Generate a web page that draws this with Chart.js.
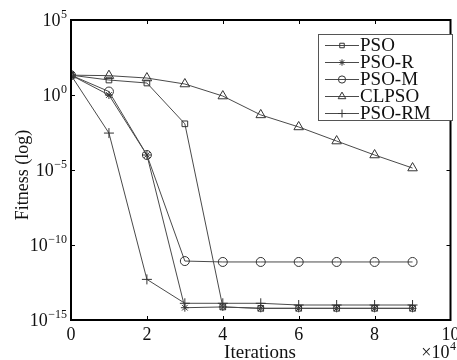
<!DOCTYPE html>
<html>
<head>
<meta charset="utf-8">
<script src="https://cdn.jsdelivr.net/npm/chart.js@4.4.0/dist/chart.umd.min.js"></script>
<style>
  html, body { margin: 0; padding: 0; background: #fff; }
</style>
</head>
<body>
<canvas id="myChart" width="457" height="360"></canvas>
<script>
// iterations, in units of 10^4
const iterations = [0, 1, 2, 3, 4, 5, 6, 7, 8, 9];

const psoValues = [21, 10, 6.3, 1.2e-2, 7.4e-15, 6e-15, 6e-15, 6e-15, 6e-15, 6e-15];
const psoRValues = [21, 1.0, 1e-4, 6.6e-15, 7.4e-15, 6e-15, 6e-15, 6e-15, 6e-15, 6e-15];
const psoMValues = [21, 1.7, 1e-4, 8.5e-12, 7.4e-12, 7.4e-12, 7.4e-12, 7.4e-12, 7.4e-12, 7.4e-12];
const clpsoValues = [21, 19.5, 13.5, 5.4, 0.85, 4.7e-2, 7.4e-3, 8.5e-4, 1e-4, 1.35e-5];
const psoRMValues = [21, 2.9e-3, 5.1e-13, 1.3e-14, 1.3e-14, 1.3e-14, 1e-14, 1e-14, 1e-14, 1e-14];

const seriesNames = ["PSO", "PSO-R", "PSO-M", "CLPSO", "PSO-RM"];
const seriesMarkers = ["rect", "star", "circle", "triangle", "cross"];
const markerSizes = [4, 4, 4.5, 5.5, 5];

const xTicks = [0, 2, 4, 6, 8, 10];
const yTicks = [1e-15, 1e-10, 1e-5, 1, 1e5];
// exponents shown as superscripts on "10"
const yTickExponents = ["−15", "−10", "−5", "0", "5"];

const serif = "'Liberation Serif', 'Times New Roman', serif";
const lineColor = "#4a4a4a";

const allValues = [psoValues, psoRValues, psoMValues, clpsoValues, psoRMValues];

const datasets = seriesNames.map((name, i) => ({
    label: name,
    data: iterations.map((x, j) => ({ x: x, y: allValues[i][j] })),
    borderColor: lineColor,
    borderWidth: 1,
    pointStyle: seriesMarkers[i],
    pointRadius: markerSizes[i],
    pointBorderColor: "#333",
    pointBorderWidth: 1,
    pointBackgroundColor: "rgba(0,0,0,0)",
    tension: 0
}));

// little marker drawing for the legend box
const drawMarker = (ctx, style, x, y, r) => {
    ctx.beginPath();
    if (style === "rect") {
        const s = r * Math.SQRT1_2;
        ctx.rect(x - s, y - s, 2 * s, 2 * s);
    } else if (style === "circle") {
        ctx.arc(x, y, r, 0, Math.PI * 2);
    } else if (style === "triangle") {
        ctx.moveTo(x, y - r);
        ctx.lineTo(x + r * 0.866, y + r * 0.5);
        ctx.lineTo(x - r * 0.866, y + r * 0.5);
        ctx.closePath();
    } else if (style === "cross") {
        ctx.moveTo(x, y - r); ctx.lineTo(x, y + r);
        ctx.moveTo(x - r, y); ctx.lineTo(x + r, y);
    } else if (style === "star") {
        for (let k = 0; k < 4; k++) {
            const a = k * Math.PI / 4;
            ctx.moveTo(x - r * Math.cos(a), y - r * Math.sin(a));
            ctx.lineTo(x + r * Math.cos(a), y + r * Math.sin(a));
        }
    }
    ctx.stroke();
};

// "10" + superscript, right edge at x
const drawPower = (ctx, base, exp, right, y) => {
    ctx.textBaseline = "middle";
    ctx.textAlign = "right";
    ctx.font = "12px " + serif;
    const ew = ctx.measureText(exp).width;
    ctx.fillText(exp, right, y - 5);
    ctx.font = "18px " + serif;
    ctx.fillText(base, right - ew - 0.5, y + 1);
};

const framePlugin = {
    id: "frame",
    afterDraw(chart) {
        const ctx = chart.ctx;
        const a = chart.chartArea;
        const xs = chart.scales.x;
        const ys = chart.scales.y;
        ctx.save();

        // box around plot
        ctx.strokeStyle = "#000";
        ctx.lineWidth = 2;
        ctx.strokeRect(a.left, a.top, a.right - a.left, a.bottom - a.top);

        // inward ticks
        ctx.lineWidth = 1;
        ctx.beginPath();
        xTicks.slice(1, -1).forEach(v => {
            const px = Math.round(xs.getPixelForValue(v)) + 0.5;
            ctx.moveTo(px, a.bottom); ctx.lineTo(px, a.bottom - 4);
            ctx.moveTo(px, a.top); ctx.lineTo(px, a.top + 4);
        });
        yTicks.slice(1, -1).forEach(v => {
            const py = Math.round(ys.getPixelForValue(v)) + 0.5;
            ctx.moveTo(a.left, py); ctx.lineTo(a.left + 4, py);
            ctx.moveTo(a.right, py); ctx.lineTo(a.right - 4, py);
        });
        ctx.stroke();

        // y tick labels with superscripts
        ctx.fillStyle = "#111";
        yTicks.forEach((v, k) => {
            drawPower(ctx, "10", yTickExponents[k], 67, ys.getPixelForValue(v));
        });

        // axis titles
        ctx.font = "19px " + serif;
        ctx.textAlign = "center";
        ctx.textBaseline = "middle";
        ctx.fillText("Iterations", 260, 353);
        drawPower(ctx, "×10", "4", 456, 352);
        ctx.save();
        ctx.translate(23, 175);
        ctx.rotate(-Math.PI / 2);
        ctx.font = "18px " + serif;
        ctx.textAlign = "center";
        ctx.fillText("Fitness (log)", 0, 0);
        ctx.restore();

        // legend
        const lx = 318, ly = 34, lw = 134, lh = 86;
        ctx.fillStyle = "#fff";
        ctx.fillRect(lx, ly, lw, lh);
        ctx.strokeStyle = "#555";
        ctx.lineWidth = 1;
        ctx.strokeRect(lx + 0.5, ly + 0.5, lw, lh);
        ctx.font = "19px " + serif;
        seriesNames.forEach((name, i) => {
            const y = ly + 11 + i * 17;
            ctx.strokeStyle = lineColor;
            ctx.beginPath();
            ctx.moveTo(325, y + 0.5); ctx.lineTo(359, y + 0.5);
            ctx.stroke();
            ctx.strokeStyle = "#333";
            drawMarker(ctx, seriesMarkers[i], 342, y + 0.5, markerSizes[i] * 0.8);
            ctx.fillStyle = "#111";
            ctx.textAlign = "left";
            ctx.textBaseline = "middle";
            ctx.fillText(name, 360, y + 1);
        });
        ctx.restore();
    }
};

const ctx = document.getElementById("myChart").getContext("2d");
const myChart = new Chart(ctx, {
    type: "line",
    data: { datasets: datasets },
    options: {
        responsive: false,
        devicePixelRatio: 1,
        animation: false,
        layout: { padding: { left: 0, right: 5, top: 20, bottom: 0 } },
        plugins: { legend: { display: false }, tooltip: { enabled: false } },
        scales: {
            x: {
                type: "linear",
                min: 0,
                max: 10,
                afterBuildTicks: (s) => { s.ticks = xTicks.map(v => ({ value: v })); },
                afterFit: (s) => { s.height = 40; s.paddingLeft = 0; s.paddingRight = 0; },
                grid: { display: false, drawTicks: false },
                border: { display: false },
                ticks: { color: "#111", font: { family: serif, size: 18 }, padding: 4, maxRotation: 0 }
            },
            y: {
                type: "logarithmic",
                min: 1e-15,
                max: 1e5,
                afterBuildTicks: (s) => { s.ticks = yTicks.map(v => ({ value: v })); },
                afterFit: (s) => { s.width = 71; s.paddingTop = 0; s.paddingBottom = 0; },
                grid: { display: false, drawTicks: false },
                border: { display: false },
                // labels are drawn with superscripts by the frame plugin
                ticks: { display: false }
            }
        }
    },
    plugins: [framePlugin]
});
</script>
</body>
</html>
